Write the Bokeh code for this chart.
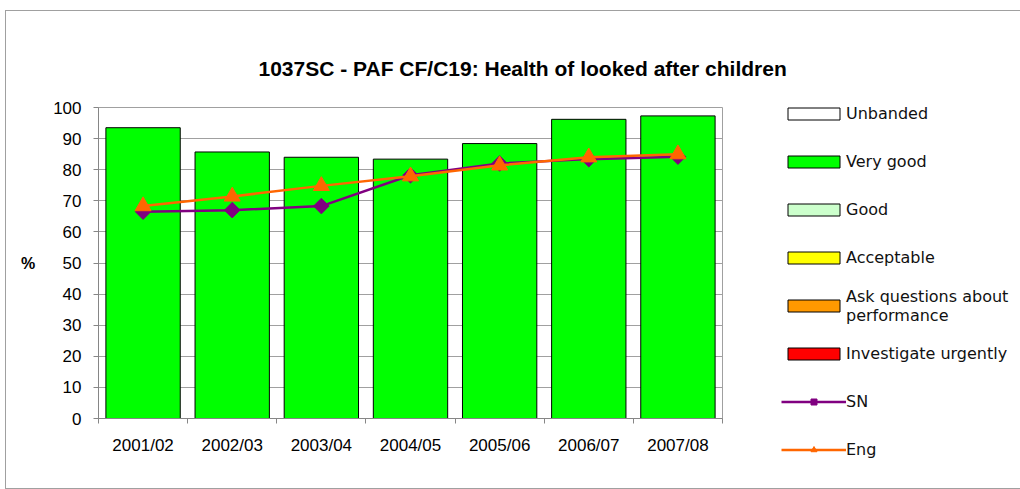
import numpy as np
from bokeh.plotting import figure
from bokeh.models import (Range1d, FixedTicker, Legend, LegendItem, ColumnDataSource)
from bokeh.embed import file_html
from bokeh.resources import INLINE

# ---- data ----
years = ["2001/02", "2002/03", "2003/04", "2004/05", "2005/06", "2006/07", "2007/08"]
very_good = [93.5, 85.7, 84.0, 83.4, 88.4, 96.2, 97.3]
sn = [66.5, 67.0, 68.3, 78.2, 82.0, 83.4, 84.2]
eng = [68.3, 71.4, 74.8, 77.9, 81.4, 84.0, 85.0]
band_names = ["Unbanded", "Very good", "Good", "Acceptable",
              "Ask questions about\nperformance", "Investigate urgently"]
band_colors = ["#FFFFFF", "#00FF00", "#CCFFCC", "#FFFF00", "#FF9900", "#FF0000"]
title_text = "1037SC - PAF CF/C19: Health of looked after children"

GRID = "#a0a0a0"
AXIS = "#868686"

n = len(years)
centers = [i + 0.5 for i in range(n)]
edges = list(range(n + 1))

p = figure(x_range=Range1d(0, n), y_range=Range1d(0, 100),
           frame_width=624, frame_height=311,
           min_border_left=92, min_border_right=294, min_border_top=96, min_border_bottom=70,
           output_backend="svg", toolbar_location=None,
           background_fill_color="white",
           border_fill_color="white", outline_line_color=GRID)
p.styles = {"margin-left": "6px", "margin-top": "11px", "outline": "1px solid #a0a0a0"}

# title
p.title.text = title_text
p.title.align = "left"
p.title.offset = 160
p.title.vertical_align = "top"
p.title.standoff = 52
p.title.text_font = "Liberation Sans"
p.title.text_font_style = "bold"
p.title.text_font_size = "21px"
p.title.text_color = "black"

# y axis
p.yaxis.ticker = FixedTicker(ticks=list(range(0, 101, 10)))
p.yaxis.axis_line_color = AXIS
p.yaxis.major_tick_line_color = AXIS
p.yaxis.major_tick_out = 5
p.yaxis.major_tick_in = 0
p.yaxis.minor_tick_line_color = None
p.yaxis.major_label_text_font = "Liberation Sans"
p.yaxis.major_label_text_font_size = "17px"
p.yaxis.major_label_text_color = "black"
p.yaxis.major_label_standoff = 12
p.yaxis.axis_label = "%"
p.yaxis.axis_label_orientation = "horizontal"
p.yaxis.axis_label_text_font = "Liberation Sans"
p.yaxis.axis_label_text_font_style = "bold"
p.yaxis.axis_label_text_font_size = "16px"
p.yaxis.axis_label_text_color = "black"
p.yaxis.axis_label_standoff = 15
p.ygrid.grid_line_color = GRID
p.xgrid.grid_line_color = None

# x axis: labels at category centres, tick marks at category boundaries
p.xaxis.ticker = FixedTicker(ticks=centers, minor_ticks=edges)
p.xaxis.major_label_overrides = {c: y for c, y in zip(centers, years)}
p.xaxis.axis_line_color = AXIS
p.xaxis.major_tick_line_color = None
p.xaxis.major_tick_out = 5
p.xaxis.major_tick_in = 0
p.xaxis.minor_tick_line_color = AXIS
p.xaxis.minor_tick_out = 5
p.xaxis.minor_tick_in = 0
p.xaxis.major_label_text_font = "Liberation Sans"
p.xaxis.major_label_text_font_size = "17px"
p.xaxis.major_label_text_color = "black"
p.xaxis.major_label_standoff = 12

# bars (only the "Very good" band has values; other bands appear in the legend only)
src = ColumnDataSource(dict(x=centers, vg=very_good, sn=sn, eng=eng))
band_renderers = []
for name, col in zip(band_names, band_colors):
    if name == "Very good":
        r = p.vbar(x="x", top="vg", width=0.834, source=src, fill_color=col,
                   line_color="black", line_width=1)
    else:
        r = p.vbar(x=[centers[0]], top=[np.nan], width=0.834, fill_color=col,
                   line_color="black", line_width=1)
    band_renderers.append(r)

# lines
sn_line = p.line(x="x", y="sn", source=src, line_color="#800080", line_width=2.5)
sn_pts = p.scatter(x="x", y="sn", source=src, marker="square", angle=np.pi / 4, size=11,
                   fill_color="#800080", line_color="#800080")
eng_line = p.line(x="x", y="eng", source=src, line_color="#FF6600", line_width=2.5)
eng_pts = p.scatter(x="x", y="eng", source=src, marker="triangle", size=16,
                    fill_color="#FF6600", line_color="#FF6600")

# legend
items = [LegendItem(label=nm, renderers=[r]) for nm, r in zip(band_names, band_renderers)]
items += [LegendItem(label="SN", renderers=[sn_line, sn_pts]),
          LegendItem(label="Eng", renderers=[eng_line, eng_pts])]
legend = Legend(items=items, location=(59, -51), glyph_width=65, glyph_height=15,
                label_height=39, spacing=9,
                border_line_color=None, background_fill_alpha=0, label_text_font="DejaVu Sans",
                label_text_font_size="16px", label_text_color="#111111", padding=0, margin=0,
                label_standoff=0)
p.add_layout(legend, "right")

open("out.html", "w").write(file_html(p, INLINE))
